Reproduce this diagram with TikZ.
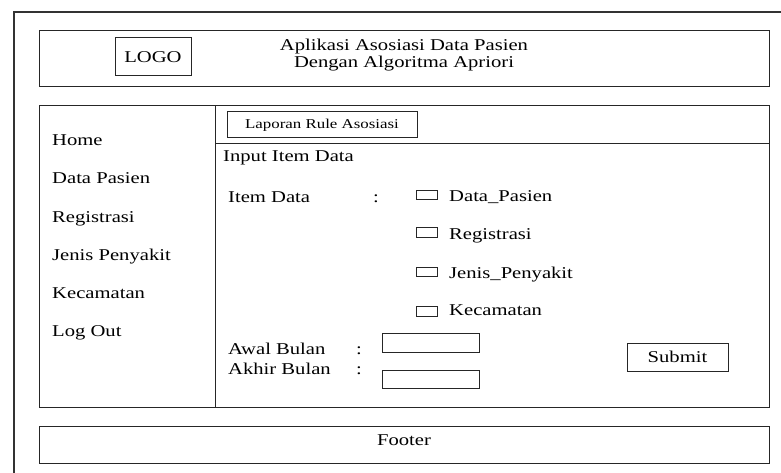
\documentclass[tikz,border=0pt]{standalone}
\usepackage{fontspec}
\setmainfont[FakeStretch=1.25]{Liberation Serif}
\tikzset{
  frame/.style={draw=black!85, line width=1pt},
  lbl/.style={font=\fontsize{16.5}{19}\selectfont, inner sep=0pt, anchor=base west},
  ctr/.style={font=\fontsize{16.5}{19}\selectfont, inner sep=0pt, anchor=base},
  btn/.style={frame, inner sep=0pt, font=\fontsize{16.5}{19}\selectfont},
  chk/.style={draw=black!85, line width=1pt, inner sep=0pt, minimum width=21pt, minimum height=9.5pt},
  fld/.style={frame, inner sep=0pt, minimum width=97pt}
}
\begin{document}
\begin{tikzpicture}[x=1pt,y=-1pt]
  \useasboundingbox (0,0) rectangle (781,473);
  % page frame, running off the right and bottom edges
  \begin{scope}
    \clip (0,0) rectangle (781,473);
    \draw[draw=black!80, line width=1.3pt] (14,12) rectangle (800,490);
  \end{scope}

  % header
  \draw[frame] (39,31) rectangle (769,87);
  \node[btn, minimum width=76pt, minimum height=38pt] (logo) at (153,57) {LOGO};
  \node[ctr] (title1) at (404,50.5) {Aplikasi Asosiasi Data Pasien};
  \node[ctr] (title2) at (404,68) {Dengan Algoritma Apriori};

  % main area
  \draw[frame] (39,106) rectangle (769,407);
  \draw[frame] (215,106) -- (215,407);
  \draw[frame] (215,143.5) -- (769,143.5);

  % menu
  \node[lbl] (home)    at (52,145.7) {Home};
  \node[lbl] (pasien)  at (52,184)   {Data Pasien};
  \node[lbl] (regis)   at (52,222)   {Registrasi};
  \node[lbl] (jenis)   at (52,260)   {Jenis Penyakit};
  \node[lbl] (kec)     at (52,298)   {Kecamatan};
  \node[lbl] (logout)  at (52,336)   {Log Out};

  % tab button
  \node[frame, inner sep=0pt, minimum width=190pt, minimum height=26pt,
        font=\fontsize{13.5}{16}\selectfont] (laporan) at (322,125) {Laporan Rule Asosiasi};

  % form
  \node[lbl] (inputhd) at (223,161.5) {Input Item Data};
  \node[lbl] (itemlbl) at (228,202) {Item Data};
  \node[ctr] (itemcol) at (376,202) {:};

  \node[chk] (c1) at (426.5,195) {};
  \node[lbl] (t1) at (449,201.5) {Data\_Pasien};
  \node[chk] (c2) at (426.5,232.5) {};
  \node[lbl] (t2) at (449,239) {Registrasi};
  \node[chk] (c3) at (426.5,272) {};
  \node[lbl] (t3) at (449,278) {Jenis\_Penyakit};
  \node[chk] (c4) at (426.5,311.5) {};
  \node[lbl] (t4) at (449,315.5) {Kecamatan};

  \node[lbl] (awal)    at (228,354) {Awal Bulan};
  \node[ctr] (awalcol) at (359,354) {:};
  \node[lbl] (akhir)   at (228,374) {Akhir Bulan};
  \node[ctr] (akhircol) at (359,374) {:};
  \node[fld, minimum height=19pt] (f1) at (430.5,342.5) {};
  \node[fld, minimum height=18pt] (f2) at (430.5,379) {};

  \node[btn, minimum width=101pt, minimum height=28pt] (submit) at (677.5,357) {Submit};

  % footer
  \draw[frame] (39,426) rectangle (769,463);
  \node[ctr] (footer) at (404,445) {Footer};
\end{tikzpicture}
\end{document}
